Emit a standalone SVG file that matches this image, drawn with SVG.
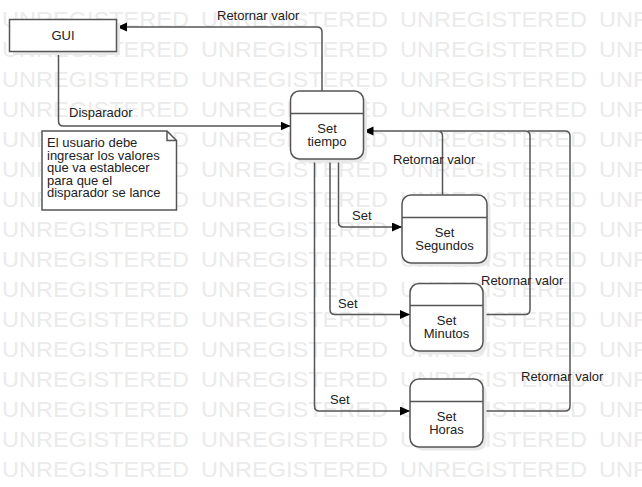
<svg xmlns="http://www.w3.org/2000/svg" xmlns:xlink="http://www.w3.org/1999/xlink" width="642" height="487" viewBox="0 0 642 487">
<defs>
<marker id="arr" markerUnits="userSpaceOnUse" markerWidth="11" markerHeight="10" refX="10" refY="4.5" orient="auto">
<path d="M0,0 L10,4.5 L0,9 z" fill="#000"/>
</marker>
<style>
.wm{font-family:"Liberation Sans",Arial,sans-serif;font-size:22px;fill:#ebebeb}
.node{fill:#fff;stroke:#555;stroke-width:1.5}
.shadow{fill:#e8e8e8}
.div{stroke:#555;stroke-width:1.5}
.t{font-family:"Liberation Sans",Arial,sans-serif;font-size:13px;fill:#222}
.c{text-anchor:middle}
.conn{fill:none;stroke:#555;stroke-width:1.5}
.arrow{marker-end:url(#arr)}
</style>
<g id="wmrow">
<text class="wm" x="2" y="0" textLength="187" lengthAdjust="spacingAndGlyphs">UNREGISTERED</text>
<text class="wm" x="201" y="0" textLength="187" lengthAdjust="spacingAndGlyphs">UNREGISTERED</text>
<text class="wm" x="400" y="0" textLength="187" lengthAdjust="spacingAndGlyphs">UNREGISTERED</text>
<text class="wm" x="599" y="0" textLength="187" lengthAdjust="spacingAndGlyphs">UNREGISTERED</text>
</g>
</defs>
<rect width="642" height="487" fill="#fff"/>
<g id="watermark">
<use href="#wmrow" xlink:href="#wmrow" y="27"/>
<use href="#wmrow" xlink:href="#wmrow" y="57"/>
<use href="#wmrow" xlink:href="#wmrow" y="87"/>
<use href="#wmrow" xlink:href="#wmrow" y="117"/>
<use href="#wmrow" xlink:href="#wmrow" y="147"/>
<use href="#wmrow" xlink:href="#wmrow" y="177"/>
<use href="#wmrow" xlink:href="#wmrow" y="207"/>
<use href="#wmrow" xlink:href="#wmrow" y="237"/>
<use href="#wmrow" xlink:href="#wmrow" y="267"/>
<use href="#wmrow" xlink:href="#wmrow" y="297"/>
<use href="#wmrow" xlink:href="#wmrow" y="327"/>
<use href="#wmrow" xlink:href="#wmrow" y="357"/>
<use href="#wmrow" xlink:href="#wmrow" y="387"/>
<use href="#wmrow" xlink:href="#wmrow" y="417"/>
<use href="#wmrow" xlink:href="#wmrow" y="447"/>
<use href="#wmrow" xlink:href="#wmrow" y="477"/>
</g>
<g id="connectors">
<path class="conn arrow" d="M58.5,51.5 V121 Q58.5,126 63.5,126 H290.5"/>
<path class="conn arrow" d="M322,91 V32 Q322,27 317,27 H117"/>
<path class="conn arrow" d="M338.5,159 V222 Q338.5,227 343.5,227 H402"/>
<path class="conn arrow" d="M330,159 V309.5 Q330,314.5 335,314.5 H410"/>
<path class="conn arrow" d="M314.5,159 V406 Q314.5,411 319.5,411 H410"/>
<path class="conn arrow" d="M442.5,195 V136 Q442.5,131 437.5,131 H363.5"/>
<path class="conn" d="M483,314.5 H525 Q530,314.5 530,309.5 V136 Q530,131 525,131 H440"/>
<path class="conn" d="M483,411 H565 Q570,411 570,406 V136 Q570,131 565,131 H528"/>
</g>
<g id="labels">
<text class="t" x="217" y="20">Retornar valor</text>
<text class="t" x="69" y="117">Disparador</text>
<text class="t" x="352" y="220">Set</text>
<text class="t" x="338" y="308">Set</text>
<text class="t" x="330" y="404">Set</text>
<text class="t" x="393" y="164">Retornar valor</text>
<text class="t" x="481" y="285">Retornar valor</text>
<text class="t" x="521" y="381">Retornar valor</text>
</g>
<g id="gui">
<rect class="shadow" x="13" y="23" width="107" height="32"/>
<rect class="node" x="9.5" y="19.5" width="107" height="32"/>
<text class="t c" x="63" y="40">GUI</text>
</g>
<g id="note">
<path class="node" d="M42,131 H167 L176.5,140.5 V210 H42 Z"/>
<path class="conn" d="M167,131 V140.5 H176.5"/>
<text class="t" x="47" y="147">El usuario debe</text>
<text class="t" x="47" y="159.5">ingresar los valores</text>
<text class="t" x="47" y="172">que va establecer</text>
<text class="t" x="47" y="184.5">para que el</text>
<text class="t" x="47" y="197">disparador se lance</text>
</g>
<g id="set-tiempo">
<rect class="shadow" x="294" y="94.5" width="73" height="68" rx="9"/>
<rect class="node" x="290.5" y="91" width="73" height="68" rx="9"/>
<line class="div" x1="290.5" y1="113.5" x2="363.5" y2="113.5"/>
<text class="t c" x="327" y="133">Set</text>
<text class="t c" x="327" y="146">tiempo</text>
</g>
<g id="set-segundos">
<rect class="shadow" x="405.5" y="198.5" width="85" height="68" rx="9"/>
<rect class="node" x="402" y="195" width="85" height="68" rx="9"/>
<line class="div" x1="402" y1="217.5" x2="487" y2="217.5"/>
<text class="t c" x="444.5" y="236.5">Set</text>
<text class="t c" x="444.5" y="249.5">Segundos</text>
</g>
<g id="set-minutos">
<rect class="shadow" x="413.5" y="287" width="73" height="67.5" rx="9"/>
<rect class="node" x="410" y="283.5" width="73" height="67.5" rx="9"/>
<line class="div" x1="410" y1="305.5" x2="483" y2="305.5"/>
<text class="t c" x="446.5" y="325">Set</text>
<text class="t c" x="446.5" y="338">Minutos</text>
</g>
<g id="set-horas">
<rect class="shadow" x="413.5" y="382.5" width="73" height="68" rx="9"/>
<rect class="node" x="410" y="379" width="73" height="68" rx="9"/>
<line class="div" x1="410" y1="401.5" x2="483" y2="401.5"/>
<text class="t c" x="446.5" y="421">Set</text>
<text class="t c" x="446.5" y="434">Horas</text>
</g>
</svg>
